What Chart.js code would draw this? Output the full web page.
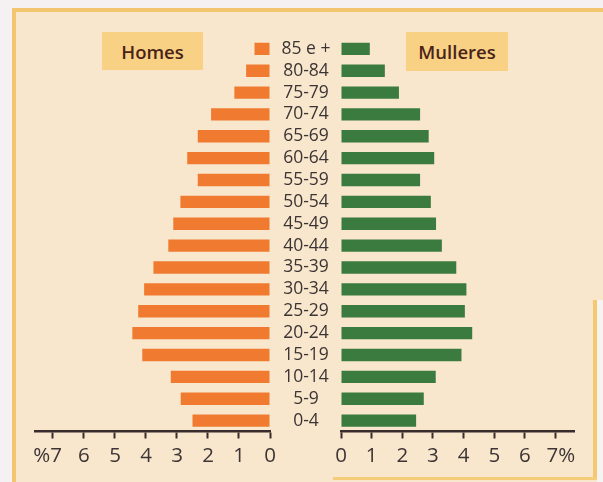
<!DOCTYPE html>
<html>
<head>
<meta charset="utf-8">
<script src="https://cdn.jsdelivr.net/npm/chart.js@4"></script>
<style>
  body{margin:0;width:603px;height:482px;position:relative;overflow:hidden;background:#f5f1f3;font-family:"Open Sans",sans-serif;}
  .abs{position:absolute;}
  canvas{position:absolute;left:0;top:0;}
  .lbl{position:absolute;background:#f9d185;color:#4a2418;font-weight:600;font-size:18.5px;display:flex;align-items:center;justify-content:center;}
</style>
</head>
<body>
<div class="abs" style="left:12px;top:8px;width:591px;height:474px;background:#f8e7cd"></div>
<div class="abs" style="left:12px;top:8px;width:591px;height:4px;background:#f3c56f"></div>
<div class="abs" style="left:12px;top:8px;width:4px;height:474px;background:#f3c56f"></div>
<div class="abs" style="left:597px;top:300px;width:6px;height:182px;background:#f6f3f2"></div>
<div class="abs" style="left:593px;top:300px;width:4px;height:180px;background:#f5c96f"></div>
<div class="abs" style="left:333px;top:477px;width:264px;height:3px;background:#f5cc78"></div>
<div class="lbl" style="left:102px;top:32px;width:101px;height:38px">Homes</div>
<div class="lbl" style="left:406px;top:32px;width:102px;height:39px">Mulleres</div>
<canvas id="left" width="603" height="482"></canvas>
<canvas id="right" width="603" height="482"></canvas>
<script>
const ageGroups = ['85 e +','80-84','75-79','70-74','65-69','60-64','55-59','50-54','45-49','40-44','35-39','30-34','25-29','20-24','15-19','10-14','5-9','0-4'];
const homes    = [0.50,0.77,1.15,1.90,2.33,2.67,2.33,2.89,3.12,3.28,3.76,4.06,4.25,4.44,4.12,3.20,2.88,2.50];
const mulleres = [0.94,1.43,1.89,2.58,2.86,3.04,2.58,2.93,3.10,3.29,3.76,4.09,4.04,4.28,3.93,3.09,2.70,2.45];
const xTicks = [0,1,2,3,4,5,6,7];

const axisColor = '#3a2c2c';
const tickFont = {family:'"Open Sans", sans-serif', size:20.5};
const ageFont = {family:'"Open Sans", sans-serif', size:17.5};

function xScale(reverse, max, lastLabel){
  return {
    type:'linear', min:0, max:max, reverse:reverse,
    afterBuildTicks: s => { s.ticks = xTicks.map(v => ({value:v})); },
    ticks:{ autoSkip:false, includeBounds:false, stepSize:1, color:'#3d3535', font:tickFont, padding:5, maxRotation:0,
      callback: v => v === 7 ? lastLabel : String(v) },
    grid:{ display:true, drawOnChartArea:false, drawTicks:true, tickLength:7, tickWidth:2, tickColor:axisColor },
    border:{ display:true, color:axisColor, width:2.5 },
    afterFit: s => { s.height = 50.5; }
  };
}

Chart.defaults.animation = false;

new Chart(document.getElementById('left'), {
  type:'bar',
  data:{ labels:ageGroups, datasets:[{ data:homes, backgroundColor:'#ef7a30', categoryPercentage:1, barPercentage:0.565 }] },
  options:{
    responsive:false, indexAxis:'y',
    layout:{ padding:{ left:35, right:333, top:37.9, bottom:0 } },
    plugins:{ legend:{display:false}, tooltip:{enabled:false} },
    scales:{
      x: xScale(true, 7.58, '%7  '),
      y: { display:false }
    }
  }
});

new Chart(document.getElementById('right'), {
  type:'bar',
  data:{ labels:ageGroups, datasets:[{ data:mulleres, backgroundColor:'#3b7b40', categoryPercentage:1, barPercentage:0.565 }] },
  options:{
    responsive:false, indexAxis:'y',
    layout:{ padding:{ left:272, right:29, top:37.9, bottom:0 } },
    plugins:{ legend:{display:false}, tooltip:{enabled:false} },
    scales:{
      x: xScale(false, 7.6, '  7%'),
      y: {
        position:'left',
        grid:{ display:false, drawTicks:false },
        border:{ display:false },
        ticks:{ autoSkip:false, color:'#3b3434', font:ageFont, crossAlign:'center', padding:10.5 },
        afterFit: s => { s.width = 69; }
      }
    }
  }
});
</script>
</body>
</html>
